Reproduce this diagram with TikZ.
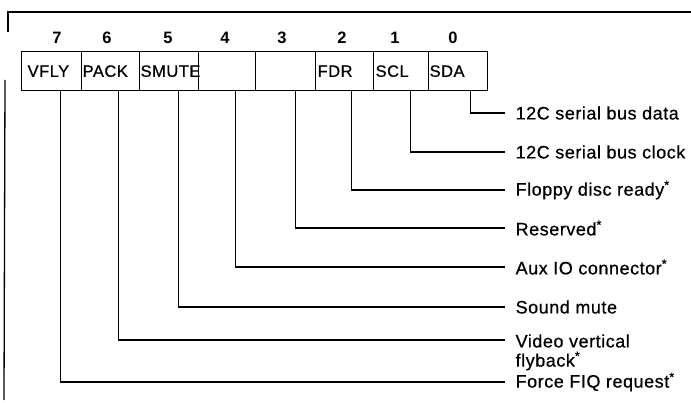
\documentclass[tikz,border=0pt]{standalone}
\usepackage{fontspec}
\setmainfont{Liberation Sans}
\newfontfamily\labfont[LetterSpace=3,FakeBold=0.6]{Liberation Sans}
\begin{document}
\begin{tikzpicture}[x=1pt,y=-1pt,line width=1.3pt,
  cell/.style={draw,anchor=north west,minimum height=39pt,inner xsep=0pt,inner ysep=0pt,
    align=left,font=\labfont\fontsize{16.5}{19}\selectfont},
  bitnum/.style={font=\bfseries\fontsize{16.5}{19}\selectfont,inner sep=0pt},
  lab/.style={anchor=west,inner xsep=10pt,inner ysep=0pt,font=\labfont\fontsize{18}{21}\selectfont},
  conn/.style={line width=1.3pt}]
\useasboundingbox (0,0) rectangle (691,403);
% frame
\draw (8,32) -- (8,12) -- (691,12);
\draw (5,80) -- (4,400);
% register cells
\node[cell,minimum width=60pt,text width=58pt] (b7) at (21,51) {\hspace*{5pt}VFLY};
\node[cell,minimum width=58pt,text width=56pt] (b6) at (81,51) {PACK};
\node[cell,minimum width=59pt,text width=57pt] (b5) at (139,51) {SMUTE};
\node[cell,minimum width=57pt,text width=55pt] (b4) at (198,51) {};
\node[cell,minimum width=60pt,text width=58pt] (b3) at (255,51) {};
\node[cell,minimum width=58pt,text width=56pt] (b2) at (315,51) {\hspace*{1pt}FDR};
\node[cell,minimum width=55pt,text width=53pt] (b1) at (373,51) {\hspace*{1pt}SCL};
\node[cell,minimum width=59pt,text width=57pt] (b0) at (428,51) {SDA};
% bit numbers
\node[bitnum] (n7) at (57,38) {7};
\node[bitnum] (n6) at (107,38) {6};
\node[bitnum] (n5) at (168,38) {5};
\node[bitnum] (n4) at (225,38) {4};
\node[bitnum] (n3) at (282,38) {3};
\node[bitnum] (n2) at (342,38) {2};
\node[bitnum] (n1) at (395,38) {1};
\node[bitnum] (n0) at (453,38) {0};
% labels
\node[lab] (l0) at (505,113) {12C serial bus data};
\node[lab] (l1) at (505,152) {12C serial bus clock};
\node[lab] (l2) at (505,190) {Floppy disc ready\textsuperscript{*}};
\node[lab] (l3) at (505,228) {Reserved\textsuperscript{*}};
\node[lab] (l4) at (505,267) {Aux IO connector\textsuperscript{*}};
\node[lab] (l5) at (505,307) {Sound mute};
\node[lab] (l6) at (505,341) {Video vertical};
\node[lab] (l6b) at (505,361) {flyback\textsuperscript{*}};
\node[lab] (l7) at (505,382) {Force FIQ request\textsuperscript{*}};
% connectors
\draw[conn] ([xshift=12.5pt]b0.south) |- (l0.west);
\draw[conn] ([xshift=9.5pt]b1.south) |- (l1.west);
\draw[conn] ([xshift=7pt]b2.south) |- (l2.west);
\draw[conn] ([xshift=10pt]b3.south) |- (l3.west);
\draw[conn] ([xshift=8.5pt]b4.south) |- (l4.west);
\draw[conn] ([xshift=9.5pt]b5.south) |- (l5.west);
\draw[conn] ([xshift=8pt]b6.south) |- ([yshift=1pt]l6.west);
\draw[conn] ([xshift=9pt]b7.south) |- (l7.west);
\end{tikzpicture}
\end{document}
